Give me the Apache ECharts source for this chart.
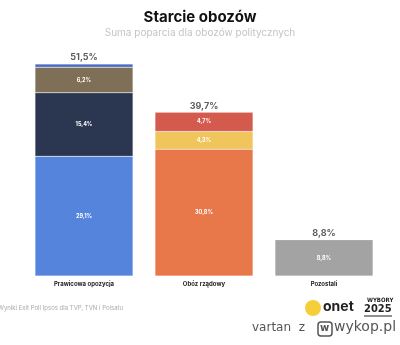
<!DOCTYPE html>
<html><head><meta charset="utf-8">
<script src="https://cdn.jsdelivr.net/npm/echarts@6/dist/echarts.min.js"></script>
<style>html,body{margin:0;padding:0;background:#fff}#c{width:400px;height:345px}</style>
</head><body><div id="c"></div>
<script>
const categories = ['Prawicowa opozycja', 'Obóz rządowy', 'Pozostali'];
const totals = [51.5, 39.7, 8.8];
const totalLabels = ['51,5%', '39,7%', '8,8%'];
const seg1 = [29.1, 30.8, 8.8];
const seg1Labels = ['29,1%', '30,8%', '8,8%'];
const seg1Colors = ['#5584dc', '#e8774a', '#a3a3a3'];
const seg2 = [15.4, 4.3, null];
const seg2Labels = ['15,4%', '4,3%', ''];
const seg2Colors = ['#2b3651', '#f0c55b', '#fff'];
const seg3 = [6.2, 4.7, null];
const seg3Labels = ['6,2%', '4,7%', ''];
const seg3Colors = ['#7e6f56', '#d45a4d', '#fff'];
const seg4 = [0.8, null, null];
const seg4Colors = ['#4c6ec4', '#fff', '#fff'];

function mk(vals, labels, colors, showLabel) {
  return {
    type: 'bar', stack: 't', barWidth: 98,
    data: vals.map((v, i) => ({ value: v, itemStyle: { color: colors[i] } })),
    itemStyle: { borderColor: 'rgba(255,255,255,0.35)', borderWidth: 0.5 },
    label: {
      show: showLabel, position: 'inside', color: '#fff', fontSize: 5.5, fontWeight: 'bold',
      fontFamily: 'Inter',
      formatter: p => labels ? labels[p.dataIndex] : ''
    },
    emphasis: { disabled: true }
  };
}

const chart = echarts.init(document.getElementById('c'));
chart.setOption({
  animation: false,
  title: [
    { text: 'Starcie obozów', left: 'center', top: 5,
      textStyle: { fontFamily: 'Inter', fontSize: 15, fontWeight: 'bold', color: '#111' } },
    { text: 'Suma poparcia dla obozów politycznych', left: 'center', top: 23,
      textStyle: { fontFamily: 'Inter', fontSize: 10, fontWeight: 'normal', color: '#c4c4c4' } }
  ],
  grid: { left: 24, right: 16, top: 29, bottom: 69 },
  xAxis: {
    type: 'category', data: categories,
    axisLine: { show: false }, axisTick: { show: false },
    axisLabel: { fontSize: 6, fontWeight: 'bold', color: '#222', margin: 5, fontFamily: 'Inter' }
  },
  yAxis: { type: 'value', min: 0, max: 60, show: false, splitLine: { show: false } },
  series: [
    mk(seg1, seg1Labels, seg1Colors, true),
    mk(seg2, seg2Labels, seg2Colors, true),
    mk(seg3, seg3Labels, seg3Colors, true),
    mk(seg4, null, seg4Colors, false),
    {
      type: 'scatter', data: totals, symbolSize: 0.1,
      itemStyle: { color: 'transparent' },
      label: { show: true, position: 'top', distance: 2, color: '#333', fontSize: 9,
        fontWeight: 'bold', fontFamily: 'Inter', formatter: p => totalLabels[p.dataIndex] },
      emphasis: { disabled: true }
    }
  ],
  graphic: [
    { type: 'text', left: -2, top: 305,
      style: { text: 'Wyniki Exit Poll Ipsos dla TVP, TVN i Polsatu', fontSize: 6, fill: '#aaa', fontFamily: 'Inter' } },
    { type: 'circle', shape: { cx: 313, cy: 308, r: 8 }, style: { fill: '#f5cf3a' } },
    { type: 'text', left: 323, top: 300,
      style: { text: 'onet', fontSize: 14, fontWeight: 'bold', fill: '#222', fontFamily: 'Inter' } },
    { type: 'text', left: 367, top: 297,
      style: { text: 'WYBORY', fontSize: 6, fontWeight: 'bold', fill: '#222', fontFamily: 'DejaVu Sans Condensed' } },
    { type: 'text', left: 364, top: 304,
      style: { text: '2025', fontSize: 11, fontWeight: 'bold', fill: '#222', fontFamily: 'DejaVu Sans Condensed' } },
    { type: 'line', shape: { x1: 364, y1: 316, x2: 392, y2: 316 }, style: { stroke: '#222', lineWidth: 1 } },
    { type: 'text', left: 252, top: 322,
      style: { text: 'vartan  z', fontSize: 12, fill: '#555', fontFamily: 'DejaVu Sans' } },
    { type: 'rect', shape: { x: 318, y: 322, width: 14, height: 14, r: 3 }, style: { fill: 'none', stroke: '#555', lineWidth: 1.5 } },
    { type: 'text', left: 320, top: 323,
      style: { text: 'w', fontSize: 10, fontWeight: 'bold', fill: '#555', fontFamily: 'DejaVu Sans' } },
    { type: 'text', left: 334, top: 320,
      style: { text: 'wykop.pl', fontSize: 14, fill: '#555', fontFamily: 'DejaVu Sans' } }
  ]
});
</script></body></html>
